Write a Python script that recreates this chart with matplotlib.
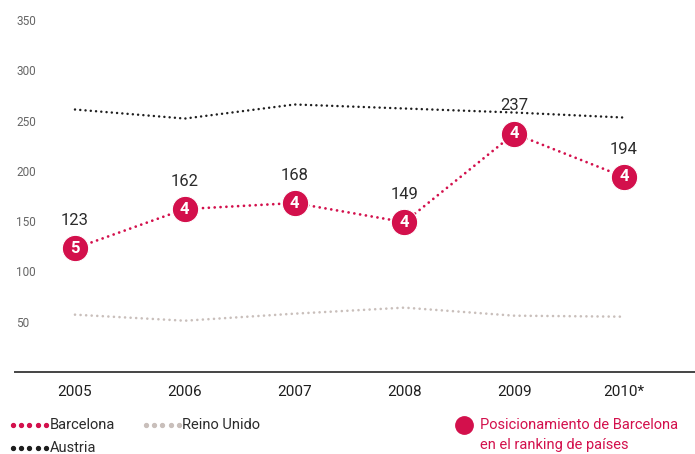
import matplotlib.pyplot as plt
from matplotlib.lines import Line2D

plt.rcParams['font.family'] = ['Roboto', 'DejaVu Sans']

years = ['2005', '2006', '2007', '2008', '2009', '2010*']
barcelona = [123, 162, 168, 149, 237, 194]
ranking = [5, 4, 4, 4, 4, 4]
austria = [261, 252, 266, 262, 258, 253]
reino_unido = [57, 51, 58, 64, 56, 55]
yticks = [50, 100, 150, 200, 250, 300, 350]

red = '#d3104c'
dark = '#1e1e1e'
grey = '#c9bfbb'

fig = plt.figure(figsize=(6.95, 4.54), dpi=100)
ax = fig.add_axes([15 / 695, 1 - 372 / 454, 680 / 695, 352 / 454])

x = list(range(len(years)))
dots = (0, (0.01, 2.1))

ax.plot(x, reino_unido, color=grey, lw=1.9, linestyle=dots, dash_capstyle='round')
ax.plot(x, austria, color=dark, lw=1.8, linestyle=dots, dash_capstyle='round')
ax.plot(x, barcelona, color=red, lw=2.0, linestyle=dots, dash_capstyle='round')
ax.plot(x, barcelona, linestyle='none', marker='o', markersize=19,
        markerfacecolor=red, markeredgecolor='white', markeredgewidth=0.8, zorder=4)

for xi, v, r in zip(x, barcelona, ranking):
    ax.text(xi, v, str(r), color='white', fontsize=12, fontweight='bold',
            ha='center', va='center', zorder=5)
    ax.annotate(str(v), (xi, v), xytext=(0, 20), textcoords='offset points',
                ha='center', va='center', fontsize=12, color='#2b2b2b')

ax.set_xlim(-60 / 109.8, 5 + 71 / 109.8)
ax.set_ylim(0, 350)
ax.set_xticks(x)
ax.set_xticklabels(years, fontsize=11, color='#1e1e1e')
ax.set_yticks(yticks)
ax.set_yticklabels([str(t) for t in yticks], fontsize=8.5, color='#666666')
for lab in ax.get_yticklabels():
    lab.set_horizontalalignment('left')
ax.tick_params(axis='y', length=0, pad=-1)
ax.tick_params(axis='x', length=0, pad=9)

for s in ['top', 'right', 'left']:
    ax.spines[s].set_visible(False)
ax.spines['bottom'].set_color('#444444')
ax.spines['bottom'].set_linewidth(1.4)


# legend drawn in figure pixels
def fx(px):
    return px / 695


def fy(py):
    return 1 - py / 454


def dot_key(x0, y0, color):
    xs = [fx(x0 + i * 8.2) for i in range(5)]
    fig.add_artist(Line2D(xs, [fy(y0)] * 5, transform=fig.transFigure,
                          linestyle='none', marker='o', markersize=2.8,
                          markerfacecolor=color, markeredgecolor=color))


dot_key(13, 425, red)
fig.text(fx(50), fy(425), 'Barcelona', fontsize=10.5, color='#2b2b2b', va='center')
dot_key(146, 425, grey)
fig.text(fx(182), fy(425), 'Reino Unido', fontsize=10.5, color='#2b2b2b', va='center')
dot_key(13, 448, dark)
fig.text(fx(50), fy(448), 'Austria', fontsize=10.5, color='#2b2b2b', va='center')

fig.add_artist(Line2D([fx(464)], [fy(425)], transform=fig.transFigure,
                      linestyle='none', marker='o', markersize=12.5,
                      markerfacecolor=red, markeredgecolor=red))
fig.text(fx(480), fy(425), 'Posicionamiento de Barcelona', fontsize=10.5,
         color=red, va='center')
fig.text(fx(480), fy(445), 'en el ranking de países', fontsize=10.5,
         color=red, va='center')

fig.savefig('out.png', dpi=100)
